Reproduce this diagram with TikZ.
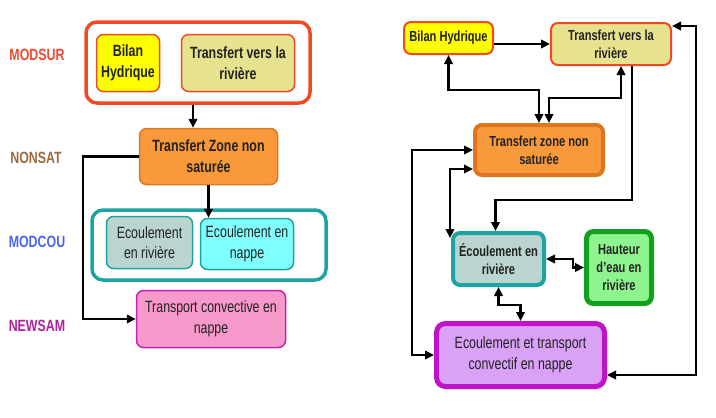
\documentclass[tikz,border=0pt]{standalone}
\usepackage{fontspec}
\setmainfont{Liberation Sans}[FakeStretch=0.76]
\usepackage{tikz}
\usetikzlibrary{arrows.meta,positioning}
\definecolor{modsurred}{HTML}{F04A24}
\definecolor{bilanyellow}{HTML}{FFFF00}
\definecolor{transkhaki}{HTML}{E6E28E}
\definecolor{zoneorange}{HTML}{F89A3C}
\definecolor{zoneedge}{HTML}{DC7620}
\definecolor{modcouteal}{HTML}{1EA3A3}
\definecolor{rivgray}{HTML}{BAD5CF}
\definecolor{nappecyan}{HTML}{80FFFF}
\definecolor{newpink}{HTML}{F79ACB}
\definecolor{newmagenta}{HTML}{C81EB4}
\definecolor{hautgreen}{HTML}{8EF58E}
\definecolor{hautedge}{HTML}{14A01E}
\definecolor{nappelilac}{HTML}{D9A2F7}
\definecolor{nappeedge}{HTML}{C013C8}
\definecolor{lblmodsur}{HTML}{F04A30}
\definecolor{lblnonsat}{HTML}{9C6B3C}
\definecolor{lblmodcou}{HTML}{4A66EE}
\definecolor{lblnewsam}{HTML}{B0219E}
\definecolor{txtgray}{HTML}{222222}

\begin{document}
\begin{tikzpicture}[x=1pt,y=-1pt,
        box/.style={draw,rounded corners=7pt,align=center,inner sep=2pt,text=txtgray},
        big/.style={font=\fontsize{16.3}{20.5}\selectfont},
        bigb/.style={font=\fontsize{16.3}{21}\selectfont\bfseries},
        smallb/.style={font=\fontsize{14.6}{18}\selectfont\bfseries},
        lbl/.style={font=\fontsize{16.3}{20}\selectfont\bfseries},
        arr/.style={line width=2.3pt,-{Triangle[length=9pt,width=8.5pt]}},
        dbl/.style={line width=2.3pt,{Triangle[length=9pt,width=8.5pt]}-{Triangle[length=9pt,width=8.5pt]}}]
        \useasboundingbox (0,0) rectangle (716,418);

        % model names
        \node[lbl,text=lblmodsur] (lmodsur) at (37,55) {MODSUR};
        \node[lbl,text=lblnonsat] (lnonsat) at (36,158) {NONSAT};
        \node[lbl,text=lblmodcou] (lmodcou) at (37,242) {MODCOU};
        \node[lbl,text=lblnewsam] (lnewsam) at (37,326) {NEWSAM};

        % left: chained models
        \node[box,draw=modsurred,line width=3.5pt,rounded corners=11pt,
              minimum width=224pt,minimum height=81pt] (modsur) at (198,62.5) {};
        \node[box,bigb,draw=modsurred,fill=bilanyellow,line width=1.5pt,
              minimum width=63pt,minimum height=57pt] (bh1) at (128,63) {Bilan\\Hydrique};
        \node[box,bigb,draw=modsurred,fill=transkhaki,line width=1.5pt,
              minimum width=113pt,minimum height=57pt] (tv1) at (238,63) {Transfert vers la\\rivière};
        \node[box,bigb,draw=zoneedge,fill=zoneorange,line width=1.5pt,
              minimum width=138pt,minimum height=56pt] (tz1) at (208.5,156.5) {Transfert Zone non\\saturée};
        \node[box,draw=modcouteal,line width=3.5pt,rounded corners=11pt,
              minimum width=234pt,minimum height=70pt] (modcou) at (209,245) {};
        \node[box,big,draw=modcouteal,fill=rivgray,line width=1.5pt,
              minimum width=86pt,minimum height=52pt] (er1) at (149.5,242.5) {Ecoulement\\en rivière};
        \node[box,big,draw=modcouteal,fill=nappecyan,line width=1.5pt,
              minimum width=93pt,minimum height=51pt] (en1) at (247,244) {Ecoulement en\\nappe};
        \node[box,big,draw=newmagenta,fill=newpink,line width=1.5pt,
              minimum width=149pt,minimum height=57pt] (tc1) at (211,319) {Transport convective en\\nappe};

        \draw[arr] ([xshift=-5pt]modsur.south) -- ([xshift=-5pt]modsur.south |- tz1.north);
        \draw[arr] (tz1.south) -- (tz1.south |- en1.north);
        \draw[arr] (tz1.west) -- ++(-56,0) |- (tc1.west);

        % right: coupled models
        \node[box,smallb,draw=modsurred,fill=bilanyellow,line width=2pt,
              minimum width=89pt,minimum height=32pt] (bh2) at (448.5,38) {Bilan Hydrique};
        \node[box,smallb,draw=modsurred,fill=transkhaki,line width=2pt,
              minimum width=120pt,minimum height=42pt] (tv2) at (611,44) {Transfert vers la\\rivière};
        \node[box,smallb,draw=zoneedge,fill=zoneorange,line width=4pt,
              minimum width=128pt,minimum height=50pt] (tz2) at (539,150) {Transfert zone non\\saturée};
        \node[box,smallb,draw=modcouteal,fill=rivgray,line width=4pt,
              minimum width=91pt,minimum height=52pt] (er2) at (498.5,259) {Écoulement en\\rivière};
        \node[box,smallb,draw=hautedge,fill=hautgreen,line width=5pt,
              minimum width=65pt,minimum height=72pt] (hr2) at (619,267.5) {Hauteur\\d'eau en\\rivière};
        \node[box,big,draw=nappeedge,fill=nappelilac,line width=5pt,rounded corners=9pt,
              minimum width=168pt,minimum height=63pt] (ec2) at (520.5,355) {Ecoulement et transport\\convectif en nappe};

        \draw[arr] (bh2.east |- tv2.west) -- (tv2.west);
        \draw[dbl] (bh2.south) -- ++(0,35) -| (tz2.north);
        \draw[dbl] ([xshift=10pt]tv2.south) -- ++(0,32) -| ([xshift=10pt]tz2.north);
        \draw[arr] ([xshift=21pt]tv2.south) -- ++(0,134) -| ([xshift=-3pt]er2.north);
        \draw[dbl] (tz2.west) -- ++(-61,0) |- (ec2.west);
        \draw[dbl] ([yshift=-19pt]tz2.west) -| ([xshift=-1pt,yshift=-7pt]er2.north west);
        \draw[dbl] (er2.east) -- ++(27,0) |- (hr2.west);
        \draw[dbl] (er2.south) -- ++(0,18) -| (ec2.north);
        \draw[dbl] ([yshift=-20pt]ec2.east) -- ++(89,0) |- ([yshift=-4pt]tv2.north east);
\end{tikzpicture}
\end{document}
